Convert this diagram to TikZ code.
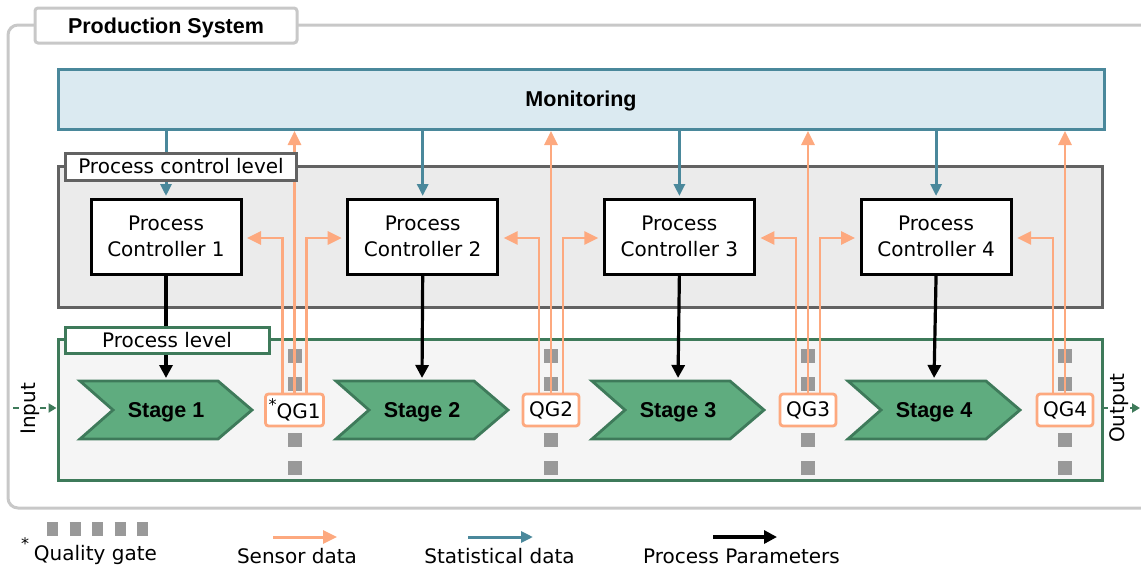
\documentclass[tikz,border=0pt]{standalone}
\usepackage{fontspec}
\setmainfont{DejaVu Sans}
\newfontfamily\headfont{Liberation Sans}
\usetikzlibrary{arrows.meta,calc}

\definecolor{framegray}{HTML}{C8C8C8}
\definecolor{monfill}{HTML}{DBEAF1}
\definecolor{statblue}{HTML}{4A889B}
\definecolor{ctrlfill}{HTML}{EBEBEB}
\definecolor{ctrlgray}{HTML}{626262}
\definecolor{procfill}{HTML}{F5F5F5}
\definecolor{procgreen}{HTML}{3E7A5A}
\definecolor{stagefill}{HTML}{5FAC7F}
\definecolor{sensorc}{HTML}{FDA97F}
\definecolor{gategray}{HTML}{999999}

% raised asterisk that marks the quality gates
\newcommand{\gatemark}[1]{\raisebox{#1}{\fontsize{16}{16}\selectfont *}}

\begin{document}
\begin{tikzpicture}[x=1pt,y=-1pt,
  font=\fontsize{20}{26}\selectfont,
  every node/.style={inner sep=0pt, outer sep=0pt},
  heading/.style={font=\headfont\bfseries\fontsize{21.5}{26}\selectfont, text height=15.5pt, text depth=0pt},
  region/.style={minimum width=1044pt, minimum height=141pt, line width=3pt},
  tag/.style={fill=white, line width=3pt, minimum height=26pt},
  ctrlbox/.style={draw=black, fill=white, line width=3pt, minimum width=150pt, minimum height=75pt, align=center},
  stagetext/.style={minimum width=172pt, minimum height=58pt, heading},
  stageshape/.style={fill=stagefill, draw=procgreen, line width=2.8pt},
  gatebox/.style={draw=sensorc, fill=white, line width=2.8pt, rounded corners=3pt, minimum width=56pt, minimum height=32pt},
  gatedash/.style={draw=gategray, line width=14pt, dash pattern=on 13.5pt off 14.5pt},
  sensorarrow/.style={draw=sensorc, line width=2.8pt, -{Triangle[length=14pt,width=13pt]}},
  statarrow/.style={draw=statblue, line width=3pt, -{Triangle[length=12pt,width=11pt]}},
  paramarrow/.style={draw=black, line width=3.2pt, -{Triangle[length=13pt,width=13pt]}},
  ioarrow/.style={draw=procgreen, line width=2.8pt, dash pattern=on 6pt off 3pt, -{Triangle[length=8pt,width=9pt]}},
]
\useasboundingbox (0,0) rectangle (1141,570);

% outer frame of the production system
\draw[draw=framegray, line width=3pt, rounded corners=10pt] (8,25) rectangle (1170,508);
\node[draw=framegray, fill=white, line width=3pt, rounded corners=3pt,
      minimum width=262pt, minimum height=35pt, heading] (title) at (166,25.5) {Production System};

% monitoring layer
\node[draw=statblue, fill=monfill, line width=3pt, minimum width=1046pt,
      minimum height=60pt, heading] (mon) at (581,99) {Monitoring};

% control and process levels
\node[region, draw=ctrlgray, fill=ctrlfill] (pcl) at (580,237) {};
\node[region, draw=procgreen, fill=procfill] (pl) at (580,410.25) {};

% controllers and stages
\foreach \i/\cx/\sx in {1/166/80, 2/422.7/336, 3/679.4/592, 4/936.1/848}{
  \node[ctrlbox] (pc\i) at (\cx,236.5) {Process\\Controller \i};
  \path[stageshape] (\sx,381) -- ++(138,0) -- ++(34,29) -- ++(-34,29) -- ++(-138,0) -- ++(33,-29) -- cycle;
  \node[stagetext] (st\i) at (\sx+86,410) {Stage \i};
}

% quality gates on the material flow
\foreach \qx in {294.5,551,808,1065}{
  \draw[gatedash] (\qx,349) -- (\qx,475);
}
\node[gatebox, minimum width=58pt] (qg1) at (294.5,410) {\gatemark{8.5pt}QG1};
\foreach \i/\qx in {2/551,3/808,4/1065}{
  \node[gatebox] (qg\i) at (\qx,410) {QG\i};
}

% statistical data and process parameters
\foreach \i in {1,...,4}{
  \draw[statarrow, shorten >=3pt] (mon.south -| pc\i.north) -- (pc\i.north);
  \draw[paramarrow, shorten >=3pt] (pc\i.south) -- (st\i.north);
}

% sensor data from the gates
\foreach \i in {1,...,4}{
  \draw[sensorarrow, shorten >=6pt] ([xshift=-12pt]qg\i.north) |- ([yshift=-1.5pt]pc\i.east);
  \draw[sensorarrow, shorten >=2pt] (qg\i.north) -- (qg\i.north |- mon.south);
}
\foreach \i/\j in {1/2,2/3,3/4}{
  \draw[sensorarrow, shorten >=6pt] ([xshift=12pt]qg\i.north) |- ([yshift=-1.5pt]pc\j.west);
}

% level tags
\node[tag, draw=ctrlgray, minimum width=231pt, minimum height=27pt] (pcltag) at (181,166.5) {Process control level};
\node[tag, draw=procgreen, minimum width=204pt] (pltag) at (167,340) {Process level};

% input and output
\coordinate (inlet) at (13,408);
\draw[ioarrow, shorten >=1.5pt] (inlet) -- (inlet -| pl.west);
\node[rotate=90, fill=white, inner sep=1pt] (inlbl) at (30,409) {Input};
\coordinate (outlet) at (1140,408);
\draw[ioarrow] (outlet -| pl.east) -- (outlet);
\node[rotate=90, fill=white, inner sep=1pt] (outlbl) at (1119,408) {Output};

% legend
\draw[gatedash, dash pattern=on 11pt off 11.5pt] (47,528.5) -- (148,528.5);
\node[anchor=base west] (lgate) at (21,560) {\gatemark{10.5pt}\hspace{5pt}Quality gate};

\coordinate (ls1) at (273,537); \coordinate (ls2) at (337,537);
\draw[sensorarrow, line width=3pt] (ls1) -- (ls2);
\node[anchor=base] (lsen) at (297,563) {Sensor data};

\coordinate (lt1) at (468,537); \coordinate (lt2) at (533,537);
\draw[statarrow] (lt1) -- (lt2);
\node[anchor=base] (lsta) at (499.5,563) {Statistical data};

\coordinate (lp1) at (713,537); \coordinate (lp2) at (777,537);
\draw[paramarrow] (lp1) -- (lp2);
\node[anchor=base] (lpar) at (741.5,563) {Process Parameters};
\end{tikzpicture}
\end{document}
